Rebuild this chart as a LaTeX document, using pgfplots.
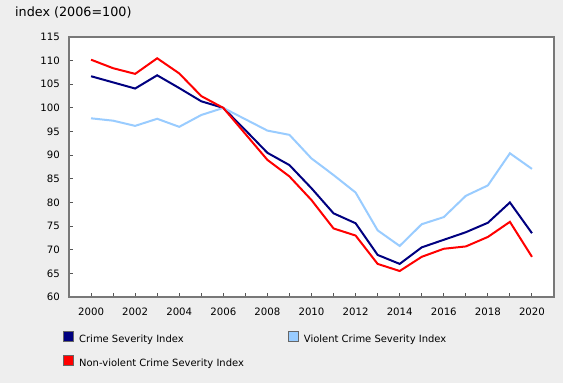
\documentclass[border=0pt]{standalone}
\usepackage{pgfplots}
\pgfplotsset{compat=1.18}
\usepackage{fontspec}
\setmainfont{DejaVu Sans}
\definecolor{bgc}{HTML}{EEEEEE}
\definecolor{framec}{HTML}{787878}
\definecolor{tickc}{HTML}{555555}
\definecolor{csi}{HTML}{000080}
\definecolor{vcsi}{HTML}{99CCFF}
\definecolor{nvcsi}{HTML}{FF0000}
\definecolor{legb}{HTML}{666666}
\begin{document}
\begin{tikzpicture}
\fill[bgc] (0,0) rectangle (563bp,383bp);
\useasboundingbox (0,0) rectangle (563bp,383bp);
\node[anchor=west, inner sep=0pt, font=\fontsize{12.8}{15}\selectfont] at (15bp,370.5bp) {index (2006=100)};
\begin{axis}[
  at={(69bp,86bp)}, anchor=south west,
  scale only axis, width=485bp, height=260bp,
  xmin=1999, xmax=2021, ymin=60, ymax=115,
  axis background/.style={fill=white},
  axis line style={draw=framec, line width=2bp},
  xtick={2000,2001,...,2020},
  xticklabels={2000,,2002,,2004,,2006,,2008,,2010,,2012,,2014,,2016,,2018,,2020},
  ytick={60,65,...,115},
  xtick pos=left, ytick pos=left,
  tick align=inside, major tick length=4bp,
  every tick/.style={draw=tickc, line width=1bp},
  /pgf/number format/assume math mode=true,
  tick label style={font=\fontsize{10.2}{12}\selectfont, inner sep=0pt},
  xticklabel style={anchor=north, yshift=-11bp},
  yticklabel style={anchor=east, xshift=-9bp},
  legend columns=2,
  legend cell align=left,
  legend style={at={(axis description cs:-0.0124,-0.13)}, anchor=north west,
    draw=none, fill=none, inner sep=0pt,
    font=\fontsize{10}{12}\selectfont,
    nodes={inner sep=0pt},
    column sep=5bp, row sep=11bp,
    /tikz/column 2/.style={column sep=44bp}},
]
\addplot[csi, line width=2bp, legend image code/.code={\draw[draw=legb, line width=1bp, fill=csi] (0bp,-2bp) rectangle (10bp,8bp);}] coordinates {
(2000,106.7) (2001,105.4) (2002,104.1) (2003,106.9) (2004,104.2) (2005,101.4) (2006,100)
(2007,95.3) (2008,90.5) (2009,87.9) (2010,83.0) (2011,77.7) (2012,75.6) (2013,68.9)
(2014,67.0) (2015,70.5) (2016,72.1) (2017,73.7) (2018,75.7) (2019,80.0) (2020,73.5)};
\addlegendentry{Crime Severity Index}
\addplot[vcsi, line width=2bp, legend image code/.code={\draw[draw=legb, line width=1bp, fill=vcsi] (0bp,-2bp) rectangle (10bp,8bp);}] coordinates {
(2000,97.8) (2001,97.3) (2002,96.2) (2003,97.7) (2004,96.0) (2005,98.5) (2006,100)
(2007,97.6) (2008,95.2) (2009,94.3) (2010,89.3) (2011,85.8) (2012,82.1) (2013,74.1)
(2014,70.8) (2015,75.4) (2016,76.9) (2017,81.4) (2018,83.6) (2019,90.4) (2020,87.1)};
\addlegendentry{Violent Crime Severity Index}
\addplot[nvcsi, line width=2bp, legend image code/.code={\draw[draw=legb, line width=1bp, fill=nvcsi] (0bp,-2bp) rectangle (10bp,8bp);}] coordinates {
(2000,110.2) (2001,108.4) (2002,107.2) (2003,110.5) (2004,107.3) (2005,102.5) (2006,100)
(2007,94.5) (2008,89.0) (2009,85.5) (2010,80.5) (2011,74.5) (2012,73.0) (2013,67.0)
(2014,65.5) (2015,68.5) (2016,70.2) (2017,70.7) (2018,72.7) (2019,75.9) (2020,68.5)};
\addlegendentry{Non-violent Crime Severity Index}
\end{axis}
\end{tikzpicture}
\end{document}
